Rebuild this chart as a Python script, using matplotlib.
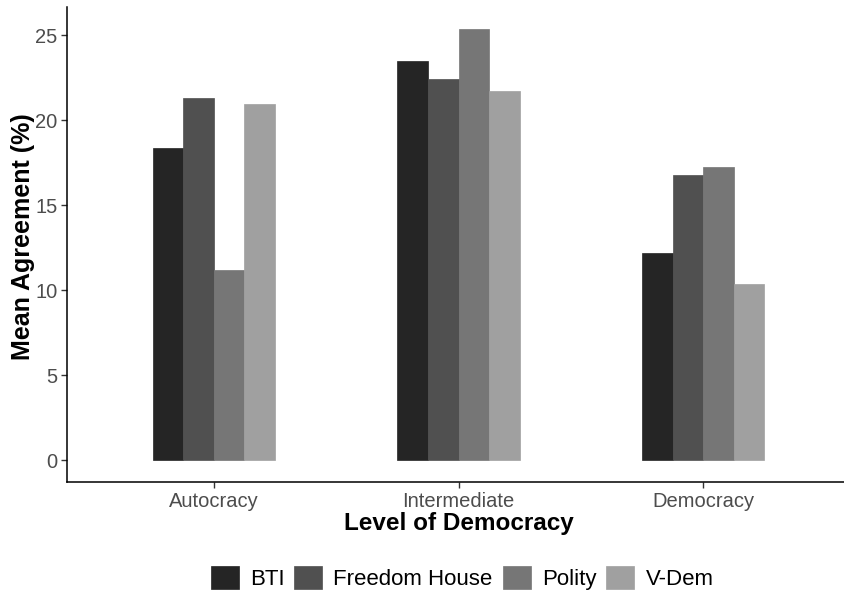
import matplotlib
matplotlib.use("Agg")
import matplotlib.pyplot as plt
import numpy as np

plt.rcParams['font.family'] = ['Liberation Sans', 'DejaVu Sans']

levels = ["Autocracy", "Intermediate", "Democracy"]
sources = ["BTI", "Freedom House", "Polity", "V-Dem"]
colors = ["#252525", "#505050", "#767676", "#a0a0a0"]

bti = [18.39, 23.51, 12.22]
freedom_house = [21.34, 22.43, 16.76]
polity = [11.22, 25.39, 17.25]
vdem = [20.96, 21.72, 10.35]
values = [bti, freedom_house, polity, vdem]

fig = plt.figure(figsize=(8.44, 5.94), dpi=100)
# axes runs a bit past the right edge, as in the reference
ax = fig.add_axes([67 / 844, 1 - 482 / 594, (850 - 67) / 844, (482 - 7) / 594])

x = np.arange(1, len(levels) + 1)
w = 0.125
for i, (vals, c, name) in enumerate(zip(values, colors, sources)):
    ax.bar(x + (i - 1.5) * w, vals, width=w, color=c, label=name,
           edgecolor=c, linewidth=0.5)

ax.set_xlim(0.4, 3.6)
ax.set_ylim(-1.27, 26.67)
ax.set_xticks(x)
ax.set_xticklabels(levels)
ax.set_yticks([0, 5, 10, 15, 20, 25])

for s in ["top", "right"]:
    ax.spines[s].set_visible(False)
for s in ["left", "bottom"]:
    ax.spines[s].set_linewidth(1.1)
    ax.spines[s].set_color("black")

ax.tick_params(axis="both", length=4, width=1, color="#333333",
               labelsize=14.5, labelcolor="#4d4d4d", pad=3)

ax.set_xlabel("Level of Democracy", fontsize=17.5, fontweight="bold", labelpad=1)
ax.set_ylabel("Mean Agreement (%)", fontsize=18, fontweight="bold")
ax.yaxis.set_label_coords(-32 / 783, (482 - 237) / 475)

leg = fig.legend(loc="center", bbox_to_anchor=(462 / 844, 1 - 578 / 594), ncol=4,
                 frameon=False, fontsize=16, handlelength=1.26, handleheight=1.2,
                 handletextpad=0.5, columnspacing=0.45)

fig.savefig("out.png", dpi=100)
